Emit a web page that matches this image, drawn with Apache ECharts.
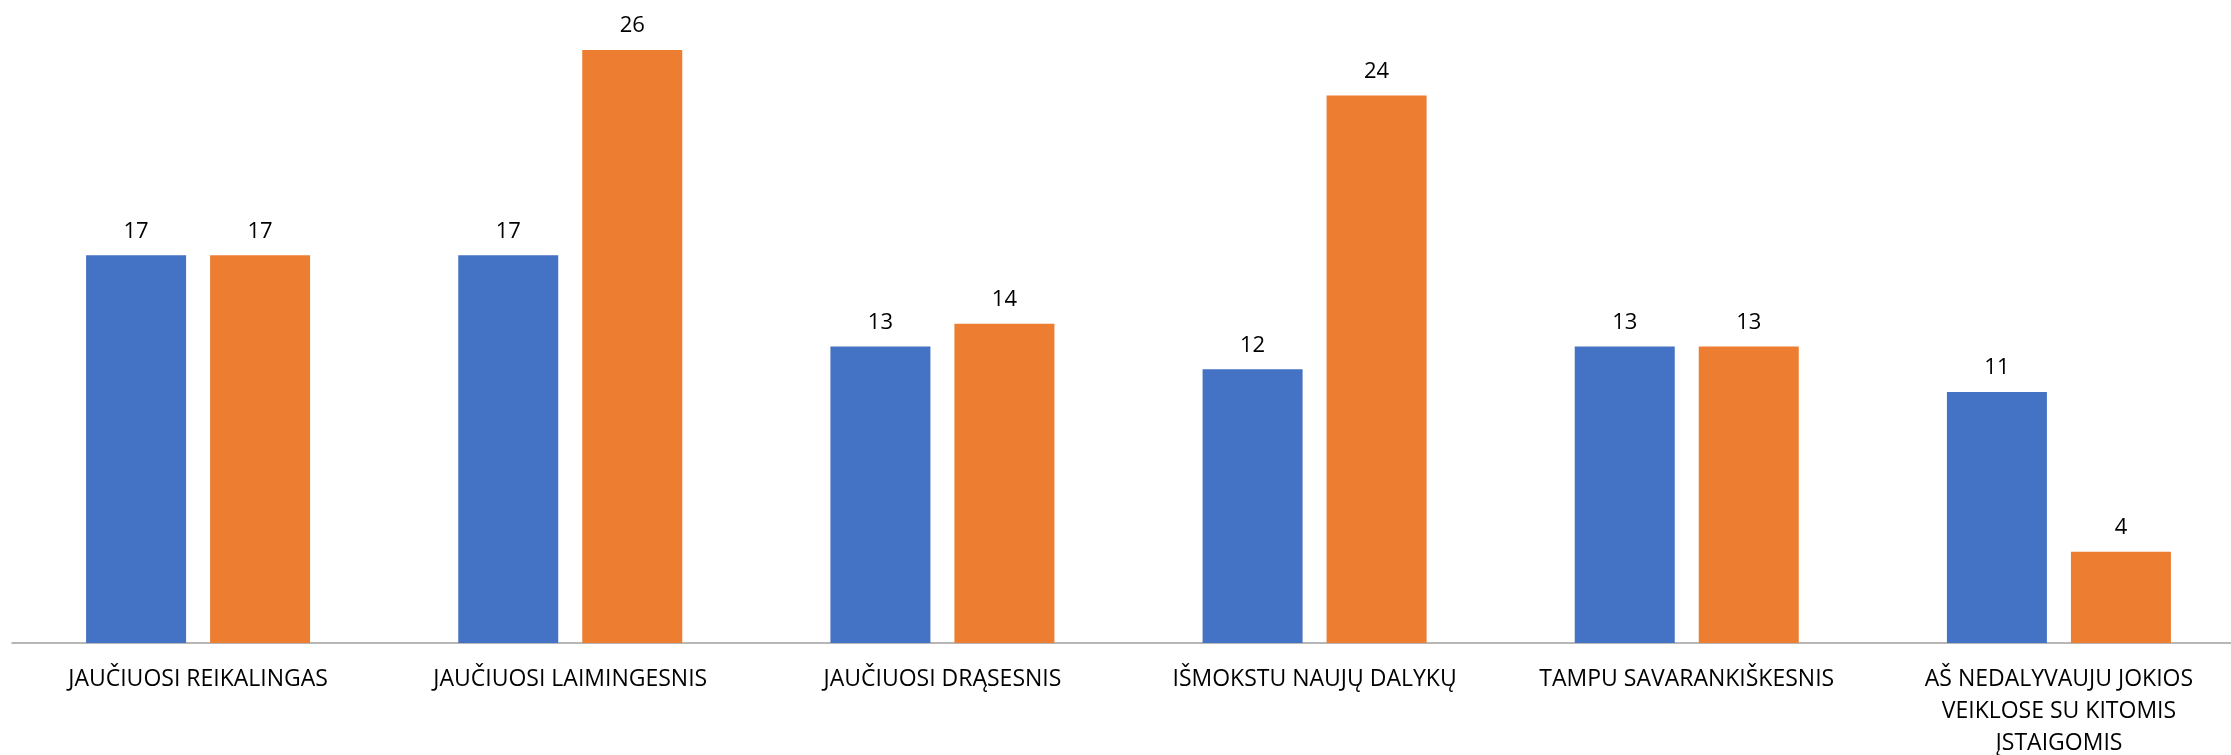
<!DOCTYPE html>
<html lang="lt">
  <head>
    <meta charset="UTF-8" />
    <title>Chart</title>
    <style>
      html, body { margin: 0; padding: 0; background: #fff; }
      #container { width: 2231px; height: 755px; }
    </style>
    <script src="https://cdn.jsdelivr.net/npm/echarts@6/dist/echarts.min.js"></script>
  </head>
  <body>
    <div id="container"></div>
    <script>
      const categories = [
        'JAUČIUOSI REIKALINGAS',
        'JAUČIUOSI LAIMINGESNIS',
        'JAUČIUOSI DRĄSESNIS',
        'IŠMOKSTU NAUJŲ DALYKŲ',
        'TAMPU SAVARANKIŠKESNIS',
        'AŠ NEDALYVAUJU JOKIOS\nVEIKLOSE SU KITOMIS\nĮSTAIGOMIS',
      ]
      const seriesA = [17, 17, 13, 12, 13, 11]
      const seriesB = [17, 26, 14, 24, 13, 4]

      const font = '"Open Sans", sans-serif'
      const chart = echarts.init(document.getElementById('container'))

      const label = {
        show: true,
        position: 'top',
        distance: 13,
        color: '#000',
        fontSize: 22,
        fontFamily: font,
      }

      chart.setOption({
        animation: false,
        grid: {
          left: 12,
          right: -14,
          top: 50,
          bottom: 112,
          containLabel: false,
          outerBoundsMode: 'none',
        },
        xAxis: {
          type: 'category',
          data: categories,
          axisLine: { lineStyle: { color: '#a0a0a0', width: 1.5 } },
          axisTick: { show: false },
          axisLabel: {
            interval: 0,
            margin: 20,
            color: '#000',
            fontSize: 23,
            lineHeight: 32,
            fontFamily: font,
          },
        },
        yAxis: {
          type: 'value',
          min: 0,
          max: 26,
          show: false,
          splitLine: { show: false },
        },
        series: [
          {
            type: 'bar',
            data: seriesA,
            barWidth: 100,
            barGap: '24%',
            itemStyle: { color: '#4472C4' },
            label: label,
          },
          {
            type: 'bar',
            data: seriesB,
            barWidth: 100,
            itemStyle: { color: '#ED7D31' },
            label: label,
          },
        ],
      })
    </script>
  </body>
</html>
